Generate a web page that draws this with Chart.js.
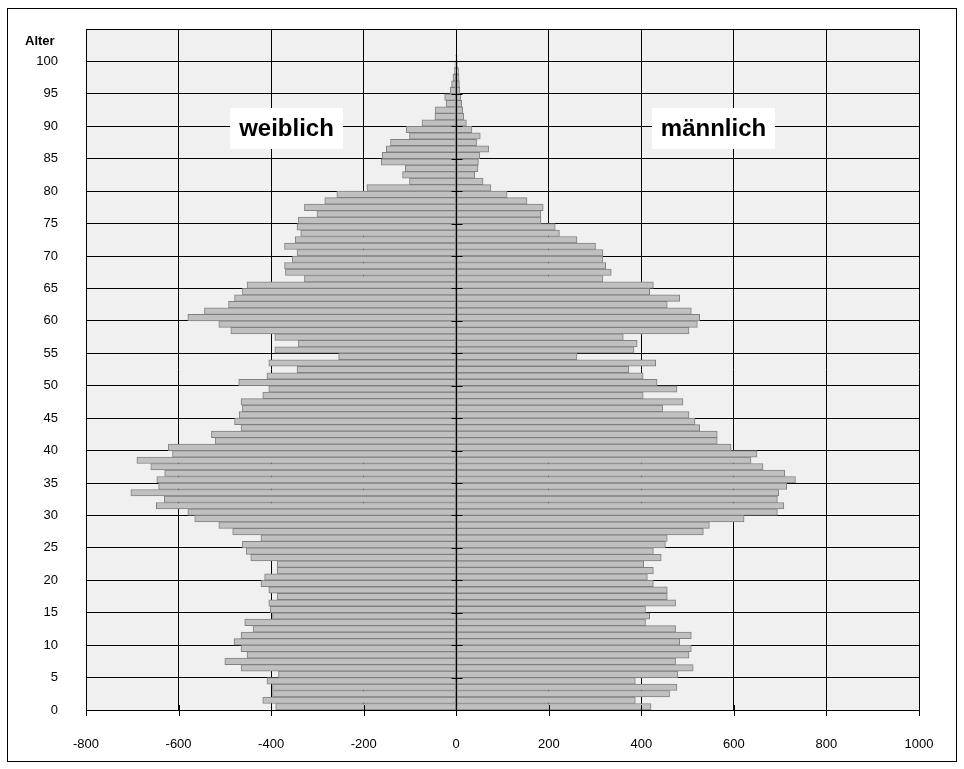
<!DOCTYPE html>
<html>
<head>
<meta charset="utf-8">
<script src="https://cdn.jsdelivr.net/npm/chart.js@4/dist/chart.umd.min.js"></script>
<style>
  body { margin: 0; background: #fff; }
  canvas { display: block; }
</style>
</head>
<body>
<canvas id="pyramid" width="964" height="769"></canvas>
<script>
// Alter 0..100
const ages = [
    0, 1, 2, 3, 4, 5, 6, 7, 8, 9, 10, 11, 12, 13, 14, 15, 16, 17, 18, 19,
    20, 21, 22, 23, 24, 25, 26, 27, 28, 29, 30, 31, 32, 33, 34, 35, 36, 37, 38, 39,
    40, 41, 42, 43, 44, 45, 46, 47, 48, 49, 50, 51, 52, 53, 54, 55, 56, 57, 58, 59,
    60, 61, 62, 63, 64, 65, 66, 67, 68, 69, 70, 71, 72, 73, 74, 75, 76, 77, 78, 79,
    80, 81, 82, 83, 84, 85, 86, 87, 88, 89, 90, 91, 92, 93, 94, 95, 96, 97, 98, 99, 100
];

// weiblich (nach links, negativ)
const female = [
    -390, -418, -397, -397, -409, -384, -465, -500, -452, -465,
    -480, -465, -439, -457, -397, -402, -405, -387, -405, -422,
    -414, -387, -387, -444, -454, -462, -422, -483, -513, -565,
    -580, -648, -631, -703, -643, -647, -630, -660, -690, -613,
    -622, -521, -529, -465, -479, -469, -462, -465, -418, -405,
    -470, -409, -344, -405, -254, -392, -341, -392, -487, -513,
    -580, -544, -492, -479, -462, -452, -328, -369, -371, -354,
    -344, -371, -348, -336, -344, -341, -301, -328, -284, -258,
    -193, -101, -116, -110, -162, -160, -151, -142, -101, -108,
    -74, -46, -45, -22, -25, -13, -10, -7, -4, -3, -1
];

// männlich (nach rechts)
const male = [
    421, 387, 461, 477, 387, 479, 512, 474, 503, 508,
    483, 508, 474, 409, 418, 409, 474, 456, 456, 426,
    413, 426, 405, 443, 426, 452, 456, 534, 547, 622,
    694, 708, 694, 697, 714, 733, 710, 663, 637, 650,
    594, 564, 564, 526, 516, 503, 446, 490, 404, 477,
    434, 404, 373, 431, 261, 384, 391, 361, 503, 521,
    526, 508, 456, 483, 418, 426, 317, 335, 323, 317,
    317, 301, 261, 223, 214, 183, 183, 188, 153, 110,
    75, 58, 40, 47, 48, 51, 70, 44, 52, 34,
    22, 16, 14, 12, 10, 8, 7, 6, 5, 3, 2
];

const xMin = -800, xMax = 1000, xStep = 200;
const yMin = 0, yMax = 105, yStep = 5;

const FONT = 'Arial, "Liberation Sans", sans-serif';

// each bar fills the slot [age, age+1]
function toPoints(values) {
    return ages.map((a, i) => ({ x: values[i], y: a + 0.5 }));
}

// background, frame, centre axis, cross ticks and the two labels
const pyramidDecor = {
    id: 'pyramidDecor',
    beforeDraw(chart) {
        const { ctx, chartArea: a } = chart;
        ctx.save();
        ctx.fillStyle = '#fff';
        ctx.fillRect(0, 0, chart.width, chart.height);
        ctx.fillStyle = '#f0f0f0';
        ctx.fillRect(a.left, a.top, a.right - a.left, a.bottom - a.top);
        ctx.strokeStyle = '#000';
        ctx.lineWidth = 1;
        ctx.strokeRect(7.5, 8.5, 949, 753);
        ctx.restore();
    },
    afterDatasetsDraw(chart) {
        const { ctx, chartArea: a, scales: { x, y } } = chart;
        const x0 = Math.round(x.getPixelForValue(0)) + 0.5;
        ctx.save();
        ctx.strokeStyle = '#000';
        ctx.lineWidth = 1;
        ctx.beginPath();
        ctx.moveTo(x0, a.top);
        ctx.lineTo(x0, a.bottom);
        y.ticks.forEach(t => {
            const py = Math.round(y.getPixelForValue(t.value)) + 0.5;
            ctx.moveTo(x0 - 5, py);
            ctx.lineTo(x0 + 6, py);
        });
        x.ticks.forEach(t => {
            const px = Math.round(x.getPixelForValue(t.value)) + 0.5;
            ctx.moveTo(px, a.bottom - 5);
            ctx.lineTo(px, a.bottom + 6);
        });
        ctx.stroke();

        // Geschlecht labels in white boxes
        ctx.font = 'bold 24px ' + FONT;
        ctx.textAlign = 'center';
        ctx.textBaseline = 'middle';
        [['weiblich', 230, 108, 113, 41], ['männlich', 652, 108, 123, 41]].forEach(([txt, bx, by, bw, bh]) => {
            ctx.fillStyle = '#fff';
            ctx.fillRect(bx, by, bw, bh);
            ctx.fillStyle = '#000';
            ctx.fillText(txt, bx + bw / 2, by + bh / 2 + 1);
        });

        // axis title
        ctx.font = 'bold 13px ' + FONT;
        ctx.textAlign = 'left';
        ctx.fillText('Alter', 25, 41);
        ctx.restore();
    }
};

const ctx = document.getElementById('pyramid').getContext('2d');
new Chart(ctx, {
    type: 'bar',
    data: {
        datasets: [{
            label: 'weiblich',
            data: toPoints(female),
            backgroundColor: '#c0c0c0',
            borderColor: '#808080',
            borderWidth: 1,
            borderSkipped: false,
            categoryPercentage: 1,
            barPercentage: 1
        }, {
            label: 'männlich',
            data: toPoints(male),
            backgroundColor: '#c0c0c0',
            borderColor: '#808080',
            borderWidth: 1,
            borderSkipped: false,
            categoryPercentage: 1,
            barPercentage: 1
        }]
    },
    options: {
        indexAxis: 'y',
        responsive: false,
        animation: false,
        devicePixelRatio: 1,
        layout: { padding: { left: 0, right: 45, top: 29, bottom: 0 } },
        plugins: {
            legend: { display: false },
            tooltip: { enabled: false }
        },
        scales: {
            x: {
                type: 'linear',
                min: xMin,
                max: xMax,
                stacked: true,
                offset: false,
                ticks: {
                    stepSize: xStep,
                    padding: 27,
                    color: '#000',
                    autoSkip: false,
                    maxRotation: 0,
                    font: { family: FONT, size: 13 },
                    callback: v => String(v)
                },
                grid: { color: '#000', lineWidth: 1, drawTicks: false, offset: false },
                border: { color: '#000' },
                afterFit(s) { s.height = 59; s.paddingLeft = 0; s.paddingRight = 0; }
            },
            y: {
                type: 'linear',
                min: yMin,
                max: yMax,
                stacked: true,
                offset: false,
                ticks: {
                    stepSize: yStep,
                    padding: 28,
                    color: '#000',
                    autoSkip: false,
                    font: { family: FONT, size: 13 },
                    callback: v => (v > 100 ? '' : String(v))
                },
                grid: { color: '#000', lineWidth: 1, drawTicks: false, offset: false },
                border: { color: '#000' },
                afterFit(s) { s.width = 86; s.paddingTop = 0; s.paddingBottom = 0; }
            }
        }
    },
    plugins: [pyramidDecor]
});
</script>
</body>
</html>
